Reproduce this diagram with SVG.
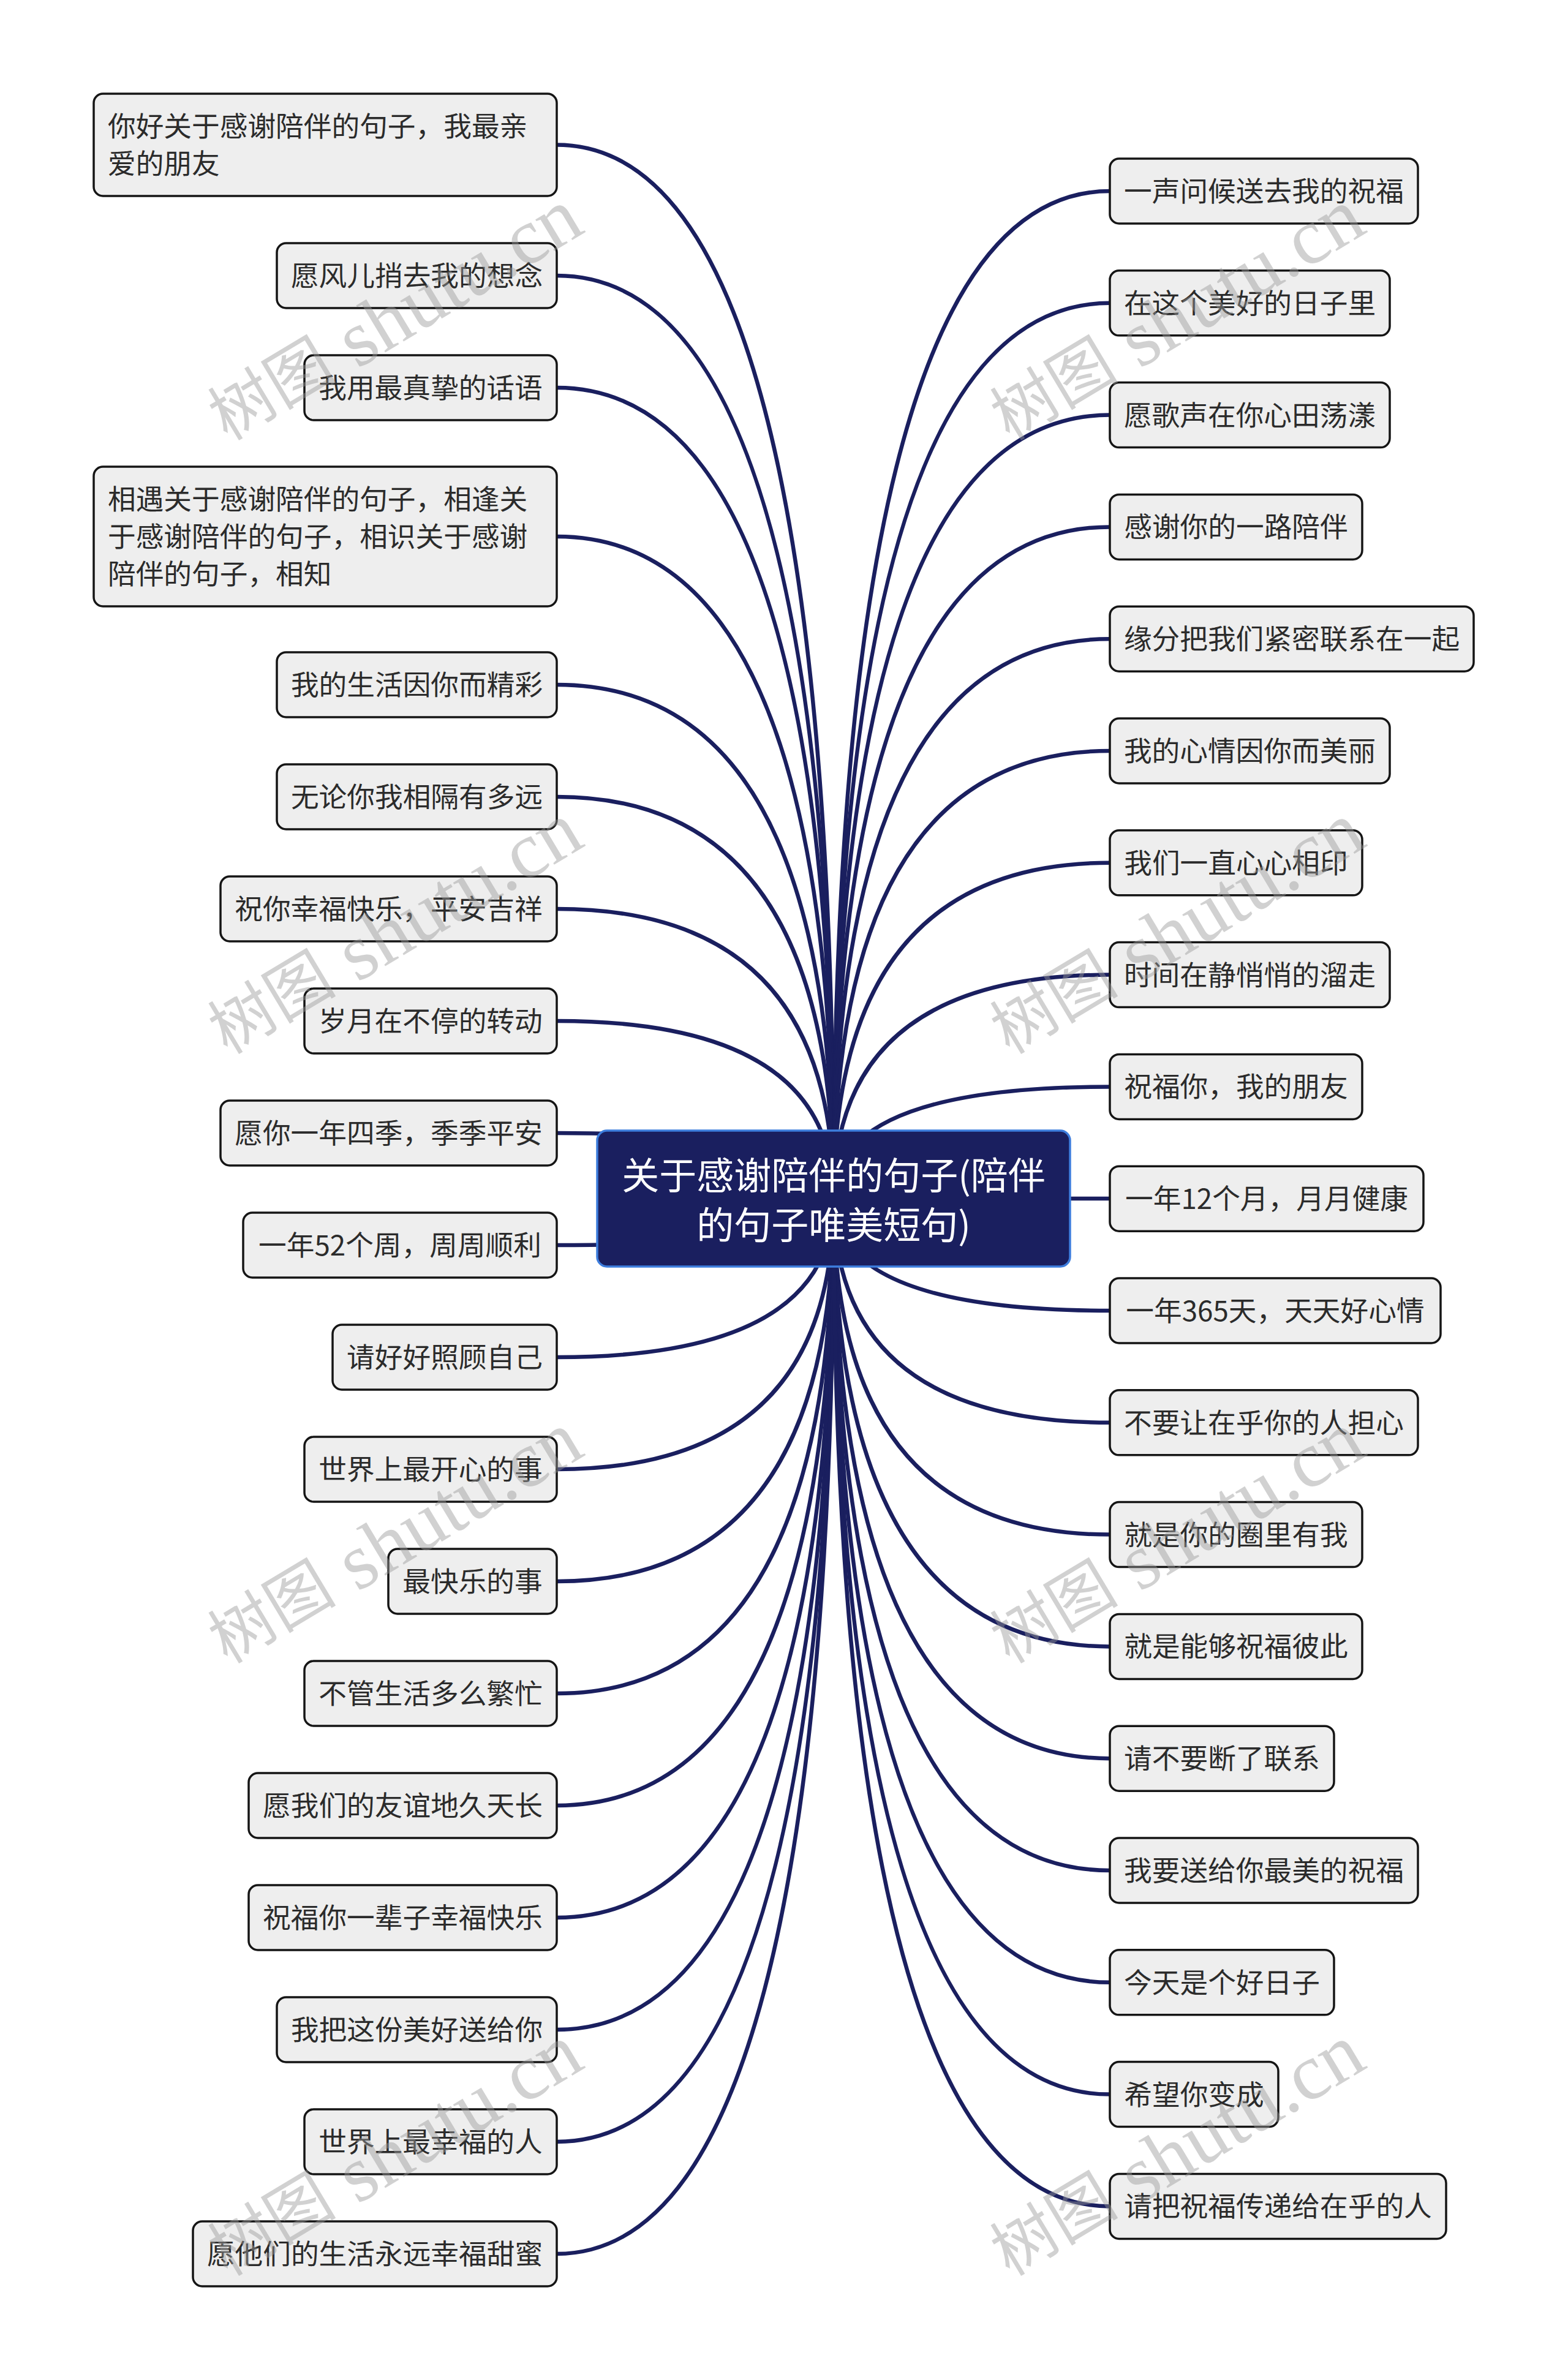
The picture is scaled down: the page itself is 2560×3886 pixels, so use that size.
<svg xmlns="http://www.w3.org/2000/svg" width="2560" height="3886" viewBox="0 0 2560 3886">
<style>
.bg{fill:#ffffff}
.leaf rect{fill:#eeeeee;stroke:#151515;stroke-width:3.5}
.leaf text{font-family:"Noto Sans CJK SC","Liberation Sans",sans-serif;font-size:45.7px;fill:#2b2b2b;transform:translateY(-3px)}
.c{text-anchor:middle;dominant-baseline:central}
.l{text-anchor:start;dominant-baseline:central}
.conn path{fill:none;stroke:#1a1f5f;stroke-width:6.5}
.root rect{fill:#1a1f5f;stroke:#3d7ddd;stroke-width:3.5}
.root text{font-family:"Noto Sans CJK SC","Liberation Sans",sans-serif;font-size:61px;fill:#ffffff;text-anchor:middle;dominant-baseline:central}
.wm text{font-family:"Liberation Serif","Noto Sans CJK SC",serif;fill:#9a9a9a;fill-opacity:0.45;text-anchor:middle;dominant-baseline:central}
</style>
<rect class="bg" x="0" y="0" width="2560" height="3886"/>
<g class="conn" id="connectors">
<path d="M1361 1957 Q1361 236.5 909 236.5"/>
<path d="M1361 1957 Q1361 450 909 450"/>
<path d="M1361 1957 Q1361 633 909 633"/>
<path d="M1361 1957 Q1361 876 909 876"/>
<path d="M1361 1957 Q1361 1118 909 1118"/>
<path d="M1361 1957 Q1361 1301 909 1301"/>
<path d="M1361 1957 Q1361 1484 909 1484"/>
<path d="M1361 1957 Q1361 1667 909 1667"/>
<path d="M1361 1957 Q1361 1850 909 1850"/>
<path d="M1361 1957 Q1361 2033 909 2033"/>
<path d="M1361 1957 Q1361 2216 909 2216"/>
<path d="M1361 1957 Q1361 2399 909 2399"/>
<path d="M1361 1957 Q1361 2582 909 2582"/>
<path d="M1361 1957 Q1361 2765 909 2765"/>
<path d="M1361 1957 Q1361 2948 909 2948"/>
<path d="M1361 1957 Q1361 3131 909 3131"/>
<path d="M1361 1957 Q1361 3314 909 3314"/>
<path d="M1361 1957 Q1361 3497 909 3497"/>
<path d="M1361 1957 Q1361 3680 909 3680"/>
<path d="M1361 1957 Q1361 312 1812 312"/>
<path d="M1361 1957 Q1361 494.8 1812 494.8"/>
<path d="M1361 1957 Q1361 677.6 1812 677.6"/>
<path d="M1361 1957 Q1361 860.4 1812 860.4"/>
<path d="M1361 1957 Q1361 1043.2 1812 1043.2"/>
<path d="M1361 1957 Q1361 1226 1812 1226"/>
<path d="M1361 1957 Q1361 1408.8 1812 1408.8"/>
<path d="M1361 1957 Q1361 1591.6 1812 1591.6"/>
<path d="M1361 1957 Q1361 1774.4 1812 1774.4"/>
<path d="M1361 1957 L1812 1957"/>
<path d="M1361 1957 Q1361 2140 1812 2140"/>
<path d="M1361 1957 Q1361 2322.8 1812 2322.8"/>
<path d="M1361 1957 Q1361 2505.6 1812 2505.6"/>
<path d="M1361 1957 Q1361 2688.4 1812 2688.4"/>
<path d="M1361 1957 Q1361 2871.2 1812 2871.2"/>
<path d="M1361 1957 Q1361 3054 1812 3054"/>
<path d="M1361 1957 Q1361 3236.8 1812 3236.8"/>
<path d="M1361 1957 Q1361 3419.6 1812 3419.6"/>
<path d="M1361 1957 Q1361 3602.4 1812 3602.4"/>
</g>
<g class="leaf" id="L1"><rect x="153" y="153" width="756" height="167" rx="15"/><text class="l" x="176" y="206">你好关于感谢陪伴的句子，我最亲</text><text class="l" x="176" y="267">爱的朋友</text></g>
<g class="leaf" id="L2"><rect x="452" y="397" width="457" height="106" rx="15"/><text class="c" x="680.5" y="450">愿风儿捎去我的想念</text></g>
<g class="leaf" id="L3"><rect x="497" y="580" width="412" height="106" rx="15"/><text class="c" x="703" y="633">我用最真挚的话语</text></g>
<g class="leaf" id="L4"><rect x="153" y="762" width="756" height="228" rx="15"/><text class="l" x="176" y="815">相遇关于感谢陪伴的句子，相逢关</text><text class="l" x="176" y="876">于感谢陪伴的句子，相识关于感谢</text><text class="l" x="176" y="937">陪伴的句子，相知</text></g>
<g class="leaf" id="L5"><rect x="452" y="1065" width="457" height="106" rx="15"/><text class="c" x="680.5" y="1118">我的生活因你而精彩</text></g>
<g class="leaf" id="L6"><rect x="452" y="1248" width="457" height="106" rx="15"/><text class="c" x="680.5" y="1301">无论你我相隔有多远</text></g>
<g class="leaf" id="L7"><rect x="360" y="1431" width="549" height="106" rx="15"/><text class="c" x="634.5" y="1484">祝你幸福快乐，平安吉祥</text></g>
<g class="leaf" id="L8"><rect x="497" y="1614" width="412" height="106" rx="15"/><text class="c" x="703" y="1667">岁月在不停的转动</text></g>
<g class="leaf" id="L9"><rect x="360" y="1797" width="549" height="106" rx="15"/><text class="c" x="634.5" y="1850">愿你一年四季，季季平安</text></g>
<g class="leaf" id="L10"><rect x="397" y="1980" width="512" height="106" rx="15"/><text class="c" x="653" y="2033">一年52个周，周周顺利</text></g>
<g class="leaf" id="L11"><rect x="543" y="2163" width="366" height="106" rx="15"/><text class="c" x="726" y="2216">请好好照顾自己</text></g>
<g class="leaf" id="L12"><rect x="497" y="2346" width="412" height="106" rx="15"/><text class="c" x="703" y="2399">世界上最开心的事</text></g>
<g class="leaf" id="L13"><rect x="634" y="2529" width="275" height="106" rx="15"/><text class="c" x="771.5" y="2582">最快乐的事</text></g>
<g class="leaf" id="L14"><rect x="497" y="2712" width="412" height="106" rx="15"/><text class="c" x="703" y="2765">不管生活多么繁忙</text></g>
<g class="leaf" id="L15"><rect x="406" y="2895" width="503" height="106" rx="15"/><text class="c" x="657.5" y="2948">愿我们的友谊地久天长</text></g>
<g class="leaf" id="L16"><rect x="406" y="3078" width="503" height="106" rx="15"/><text class="c" x="657.5" y="3131">祝福你一辈子幸福快乐</text></g>
<g class="leaf" id="L17"><rect x="452" y="3261" width="457" height="106" rx="15"/><text class="c" x="680.5" y="3314">我把这份美好送给你</text></g>
<g class="leaf" id="L18"><rect x="497" y="3444" width="412" height="106" rx="15"/><text class="c" x="703" y="3497">世界上最幸福的人</text></g>
<g class="leaf" id="L19"><rect x="315" y="3627" width="594" height="106" rx="15"/><text class="c" x="612" y="3680">愿他们的生活永远幸福甜蜜</text></g>
<g class="leaf" id="R1"><rect x="1812" y="259" width="503" height="106" rx="15"/><text class="c" x="2063.5" y="312">一声问候送去我的祝福</text></g>
<g class="leaf" id="R2"><rect x="1812" y="441.8" width="457" height="106" rx="15"/><text class="c" x="2040.5" y="494.8">在这个美好的日子里</text></g>
<g class="leaf" id="R3"><rect x="1812" y="624.6" width="457" height="106" rx="15"/><text class="c" x="2040.5" y="677.6">愿歌声在你心田荡漾</text></g>
<g class="leaf" id="R4"><rect x="1812" y="807.4" width="412" height="106" rx="15"/><text class="c" x="2018" y="860.4">感谢你的一路陪伴</text></g>
<g class="leaf" id="R5"><rect x="1812" y="990.2" width="594" height="106" rx="15"/><text class="c" x="2109" y="1043.2">缘分把我们紧密联系在一起</text></g>
<g class="leaf" id="R6"><rect x="1812" y="1173" width="457" height="106" rx="15"/><text class="c" x="2040.5" y="1226">我的心情因你而美丽</text></g>
<g class="leaf" id="R7"><rect x="1812" y="1355.8" width="412" height="106" rx="15"/><text class="c" x="2018" y="1408.8">我们一直心心相印</text></g>
<g class="leaf" id="R8"><rect x="1812" y="1538.6" width="457" height="106" rx="15"/><text class="c" x="2040.5" y="1591.6">时间在静悄悄的溜走</text></g>
<g class="leaf" id="R9"><rect x="1812" y="1721.4" width="412" height="106" rx="15"/><text class="c" x="2018" y="1774.4">祝福你，我的朋友</text></g>
<g class="leaf" id="R10"><rect x="1812" y="1904.2" width="512" height="106" rx="15"/><text class="c" x="2068" y="1957.2">一年12个月，月月健康</text></g>
<g class="leaf" id="R11"><rect x="1812" y="2087" width="540" height="106" rx="15"/><text class="c" x="2082" y="2140">一年365天，天天好心情</text></g>
<g class="leaf" id="R12"><rect x="1812" y="2269.8" width="503" height="106" rx="15"/><text class="c" x="2063.5" y="2322.8">不要让在乎你的人担心</text></g>
<g class="leaf" id="R13"><rect x="1812" y="2452.6" width="412" height="106" rx="15"/><text class="c" x="2018" y="2505.6">就是你的圈里有我</text></g>
<g class="leaf" id="R14"><rect x="1812" y="2635.4" width="412" height="106" rx="15"/><text class="c" x="2018" y="2688.4">就是能够祝福彼此</text></g>
<g class="leaf" id="R15"><rect x="1812" y="2818.2" width="366" height="106" rx="15"/><text class="c" x="1995" y="2871.2">请不要断了联系</text></g>
<g class="leaf" id="R16"><rect x="1812" y="3001" width="503" height="106" rx="15"/><text class="c" x="2063.5" y="3054">我要送给你最美的祝福</text></g>
<g class="leaf" id="R17"><rect x="1812" y="3183.8" width="366" height="106" rx="15"/><text class="c" x="1995" y="3236.8">今天是个好日子</text></g>
<g class="leaf" id="R18"><rect x="1812" y="3366.6" width="275" height="106" rx="15"/><text class="c" x="1949.5" y="3419.6">希望你变成</text></g>
<g class="leaf" id="R19"><rect x="1812" y="3549.4" width="549" height="106" rx="15"/><text class="c" x="2086.5" y="3602.4">请把祝福传递给在乎的人</text></g>
<g class="root" id="root"><rect x="975" y="1846" width="772" height="222" rx="16"/><text x="1361" y="1915">关于感谢陪伴的句子(陪伴</text><text x="1361" y="1996">的句子唯美短句)</text></g>
<g class="wm" id="watermarks">
<text transform="translate(644 515) rotate(-31)"><tspan font-size="105">树图</tspan><tspan font-size="130"> shutu.cn</tspan></text>
<text transform="translate(644 1517) rotate(-31)"><tspan font-size="105">树图</tspan><tspan font-size="130"> shutu.cn</tspan></text>
<text transform="translate(644 2512) rotate(-31)"><tspan font-size="105">树图</tspan><tspan font-size="130"> shutu.cn</tspan></text>
<text transform="translate(644 3512) rotate(-31)"><tspan font-size="105">树图</tspan><tspan font-size="130"> shutu.cn</tspan></text>
<text transform="translate(1921 515) rotate(-31)"><tspan font-size="105">树图</tspan><tspan font-size="130"> shutu.cn</tspan></text>
<text transform="translate(1921 1517) rotate(-31)"><tspan font-size="105">树图</tspan><tspan font-size="130"> shutu.cn</tspan></text>
<text transform="translate(1921 2512) rotate(-31)"><tspan font-size="105">树图</tspan><tspan font-size="130"> shutu.cn</tspan></text>
<text transform="translate(1921 3512) rotate(-31)"><tspan font-size="105">树图</tspan><tspan font-size="130"> shutu.cn</tspan></text>
</g>
</svg>
